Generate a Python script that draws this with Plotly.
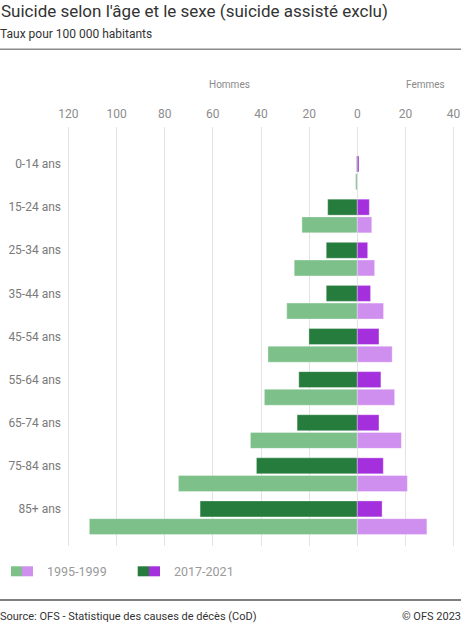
import plotly.graph_objects as go

categories = ["0-14 ans", "15-24 ans", "25-34 ans", "35-44 ans", "45-54 ans",
              "55-64 ans", "65-74 ans", "75-84 ans", "85+ ans"]
men_2017 = [0.3, 12.3, 12.9, 12.9, 20.1, 24.3, 25.0, 41.9, 65.3]
women_2017 = [0.7, 5.0, 4.3, 5.5, 9.0, 9.8, 9.0, 10.8, 10.3]
men_1995 = [0.7, 23.0, 26.2, 29.3, 37.1, 38.6, 44.4, 74.3, 111.3]
women_1995 = [0.2, 6.0, 7.2, 10.9, 14.5, 15.5, 18.3, 20.8, 28.9]
tick_values = [-120, -100, -80, -60, -40, -20, 0, 20, 40]
tick_labels = ["120", "100", "80", "60", "40", "20", "0", "20", "40"]

C_DG = "#267c3c"
C_LG = "#7dc08a"
C_DP = "#a42fdd"
C_LP = "#cf8fee"

W, H = 461, 623
ML, MR, MT, MB = 66, 5, 127, 77
PW, PH = W - ML - MR, H - MT - MB


def px(x):
    return (x - ML) / PW


def py(y):
    return (H - MB - y) / PH


idx = list(range(len(categories)))
y_dark = [i for i in idx]
y_light = [i + 0.41 for i in idx]
BW = 0.37
outline = dict(color="rgba(255,255,255,0.55)", width=0.6)

fig = go.Figure()
fig.add_trace(go.Bar(y=y_dark, x=[-v for v in men_2017], orientation="h", width=BW,
                     marker=dict(color=C_DG, line=outline), name="2017-2021 Hommes"))
fig.add_trace(go.Bar(y=y_dark, x=women_2017, orientation="h", width=BW,
                     marker=dict(color=C_DP, line=outline), name="2017-2021 Femmes"))
fig.add_trace(go.Bar(y=y_light, x=[-v for v in men_1995], orientation="h", width=BW,
                     marker=dict(color=C_LG, line=outline), name="1995-1999 Hommes"))
fig.add_trace(go.Bar(y=y_light, x=women_1995, orientation="h", width=BW,
                     marker=dict(color=C_LP, line=outline), name="1995-1999 Femmes"))

FONT = "Roboto"

fig.update_layout(
    width=W, height=H,
    margin=dict(l=ML, r=MR, t=MT, b=MB, pad=0, autoexpand=False),
    paper_bgcolor="white", plot_bgcolor="white",
    barmode="overlay", showlegend=False,
    font=dict(family=FONT, color="#757575", size=12),
    xaxis=dict(range=[-121, 41], side="top", tickvals=tick_values, ticktext=tick_labels,
               showgrid=True, gridcolor="#e3e3e3", gridwidth=1, zeroline=False,
               showline=False, ticks="", tickfont=dict(size=12, color="#8c8c8c"),
               ticklabelstandoff=6, fixedrange=True, automargin=False),
    yaxis=dict(range=[8.86, -0.86], tickvals=y_dark, ticktext=categories,
               showgrid=False, zeroline=False, showline=False, ticks="",
               tickfont=dict(size=12, color="#7a7a7a"), ticklabelstandoff=4,
               fixedrange=True, automargin=False),
)

annotations = [
    dict(text="Suicide selon l'âge et le sexe (suicide assisté exclu)", x=px(-1.5), y=py(10.5),
         xanchor="left", yanchor="middle", font=dict(size=17, color="#333333")),
    dict(text="Taux pour 100 000 habitants", x=px(-2), y=py(34),
         xanchor="left", yanchor="middle", font=dict(size=12, color="#333333")),
    dict(text="Hommes", x=px(229.5), y=py(84), xanchor="center", yanchor="middle",
         font=dict(size=10, color="#8a8a8a")),
    dict(text="Femmes", x=px(425.5), y=py(84), xanchor="center", yanchor="middle",
         font=dict(size=10, color="#8a8a8a")),
    dict(text="1995-1999", x=px(45), y=py(571), xanchor="left", yanchor="middle",
         font=dict(size=12.5, color="#9a9a9a")),
    dict(text="2017-2021", x=px(172), y=py(571), xanchor="left", yanchor="middle",
         font=dict(size=12.5, color="#9a9a9a")),
    dict(text="Source: OFS - Statistique des causes de décès (CoD)", x=px(-2), y=py(616),
         xanchor="left", yanchor="middle", font=dict(size=11, color="#333333")),
    dict(text="© OFS 2023", x=px(463), y=py(616), xanchor="right", yanchor="middle",
         font=dict(size=11, color="#333333")),
]
for a in annotations:
    a.update(xref="paper", yref="paper", showarrow=False)
fig.update_layout(annotations=annotations)

shapes = [
    dict(type="line", x0=px(0), x1=px(461), y0=py(49.3), y1=py(49.3),
         line=dict(color="#8a8a8a", width=1.5)),
    dict(type="line", x0=px(0), x1=px(461), y0=py(600), y1=py(600),
         line=dict(color="#555555", width=1.3)),
    dict(type="rect", x0=px(11), x1=px(22), y0=py(576.3), y1=py(566.3),
         fillcolor=C_LG, line=dict(width=0)),
    dict(type="rect", x0=px(22), x1=px(33), y0=py(576.3), y1=py(566.3),
         fillcolor=C_LP, line=dict(width=0)),
    dict(type="rect", x0=px(137.7), x1=px(149), y0=py(576.3), y1=py(566.3),
         fillcolor=C_DG, line=dict(width=0)),
    dict(type="rect", x0=px(149), x1=px(160), y0=py(576.3), y1=py(566.3),
         fillcolor=C_DP, line=dict(width=0)),
]
for s in shapes:
    s.update(xref="paper", yref="paper")
fig.update_layout(shapes=shapes)

fig.write_html("out.html", config={"displayModeBar": False},
               post_script="document.body.style.margin='0';document.body.style.overflow='hidden';")
